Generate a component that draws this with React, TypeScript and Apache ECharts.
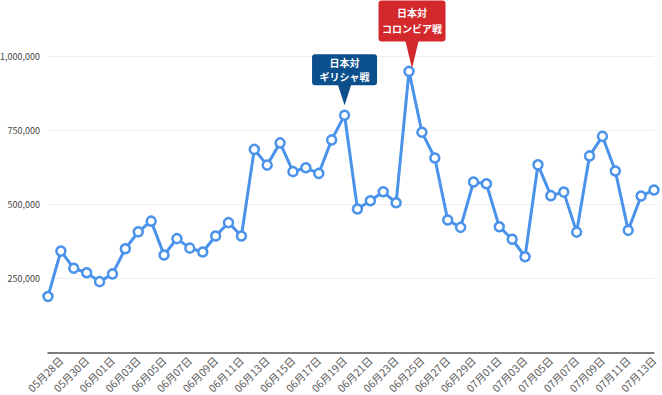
import React, { useEffect, useRef } from "react";
import * as echarts from "echarts";

const dates: string[] = [
  "05月27日", "05月28日", "05月29日", "05月30日", "05月31日",
  "06月01日", "06月02日", "06月03日", "06月04日", "06月05日", "06月06日", "06月07日", "06月08日", "06月09日", "06月10日",
  "06月11日", "06月12日", "06月13日", "06月14日", "06月15日", "06月16日", "06月17日", "06月18日", "06月19日", "06月20日",
  "06月21日", "06月22日", "06月23日", "06月24日", "06月25日", "06月26日", "06月27日", "06月28日", "06月29日", "06月30日",
  "07月01日", "07月02日", "07月03日", "07月04日", "07月05日", "07月06日", "07月07日", "07月08日", "07月09日", "07月10日",
  "07月11日", "07月12日", "07月13日",
];

const values: number[] = [
  189000, 342000, 284000, 269000, 239000,
  265000, 350000, 407000, 443000, 329000, 384000, 352000, 339000, 393000, 438000,
  393000, 685000, 632000, 707000, 610000, 623000, 604000, 717000, 800000, 484000,
  512000, 542000, 505000, 948000, 743000, 656000, 447000, 422000, 575000, 569000,
  424000, 382000, 323000, 633000, 529000, 541000, 406000, 663000, 729000, 612000,
  412000, 528000, 548000,
];

const yTicks: number[] = [0, 250000, 500000, 750000, 1000000];

const callouts = [
  { date: "06月19日", text: "日本対\nギリシャ戦", color: "#0b4f8c" },
  { date: "06月24日", text: "日本対\nコロンビア戦", color: "#d3282c" },
];

const greecePath =
  "path://M3,0 L62,0 Q65,0 65,3 L65,28 Q65,31 62,31 L39,31 L32.5,51 L26,31 L3,31 Q0,31 0,28 L0,3 Q0,0 3,0 Z";
const colombiaPath =
  "path://M3,0 L64,0 Q67,0 67,3 L67,38 Q67,41 64,41 L40,41 L33.5,68 L27,41 L3,41 Q0,41 0,38 L0,3 Q0,0 3,0 Z";

export default function App() {
  const ref = useRef<HTMLDivElement>(null);
  useEffect(() => {
    if (!ref.current) return;
    const chart = echarts.init(ref.current, undefined, { renderer: "svg" });
    const idxG = dates.indexOf(callouts[0].date);
    const idxC = dates.indexOf(callouts[1].date);
    chart.setOption({
      animation: false,
      backgroundColor: "#ffffff",
      grid: { left: 48, right: 8, top: 56, bottom: 42.5, outerBoundsMode: "none", containLabel: false },
      xAxis: {
        type: "category",
        data: dates,
        boundaryGap: false,
        axisLine: { show: true, lineStyle: { color: "#555555", width: 1.5 } },
        axisTick: { show: false },
        axisLabel: {
          interval: (i: number) => i % 2 === 1,
          rotate: 45,
          margin: 6,
          fontSize: 10.5,
          color: "#5a5a5a",
          fontFamily: "Noto Sans CJK JP",
        },
        splitLine: { show: false },
      },
      yAxis: {
        type: "value",
        min: yTicks[0],
        max: yTicks[yTicks.length - 1],
        interval: 250000,
        axisLine: { show: false },
        axisTick: { show: false },
        axisLabel: {
          margin: 8,
          fontSize: 9,
          color: "#444444",
          fontFamily: "Noto Sans CJK JP",
          formatter: (v: number) => (v === 0 ? "" : v.toLocaleString("en-US")),
        },
        splitLine: { show: true, lineStyle: { color: "#eeeeee", width: 1 } },
      },
      series: [
        {
          type: "line",
          data: values,
          lineStyle: { color: "#4a92ea", width: 3 },
          itemStyle: { color: "#ffffff", borderColor: "#4a92ea", borderWidth: 2.5 },
          symbol: "circle",
          symbolSize: 9,
          showAllSymbol: true,
          markPoint: {
            silent: true,
            data: [
              {
                coord: [idxG, values[idxG]],
                symbol: greecePath,
                symbolSize: [65, 51],
                symbolOffset: [0, -35.5],
                itemStyle: { color: callouts[0].color },
                label: {
                  show: true,
                  position: "inside",
                  offset: [0, -10],
                  formatter: callouts[0].text,
                  color: "#ffffff",
                  fontSize: 10,
                  fontWeight: "bold",
                  lineHeight: 14,
                  fontFamily: "Noto Sans CJK JP",
                },
              },
              {
                coord: [idxC, values[idxC]],
                symbol: colombiaPath,
                symbolSize: [67, 68],
                symbolOffset: [3, -37],
                itemStyle: { color: callouts[1].color },
                label: {
                  show: true,
                  position: "inside",
                  offset: [0, -13.5],
                  formatter: callouts[1].text,
                  color: "#ffffff",
                  fontSize: 10,
                  fontWeight: "bold",
                  lineHeight: 16,
                  fontFamily: "Noto Sans CJK JP",
                },
              },
            ],
          },
        },
      ],
    });
    return () => chart.dispose();
  }, []);
  return <div ref={ref} style={{ width: 662, height: 395, position: "absolute", left: 0, top: 0 }} />;
}
